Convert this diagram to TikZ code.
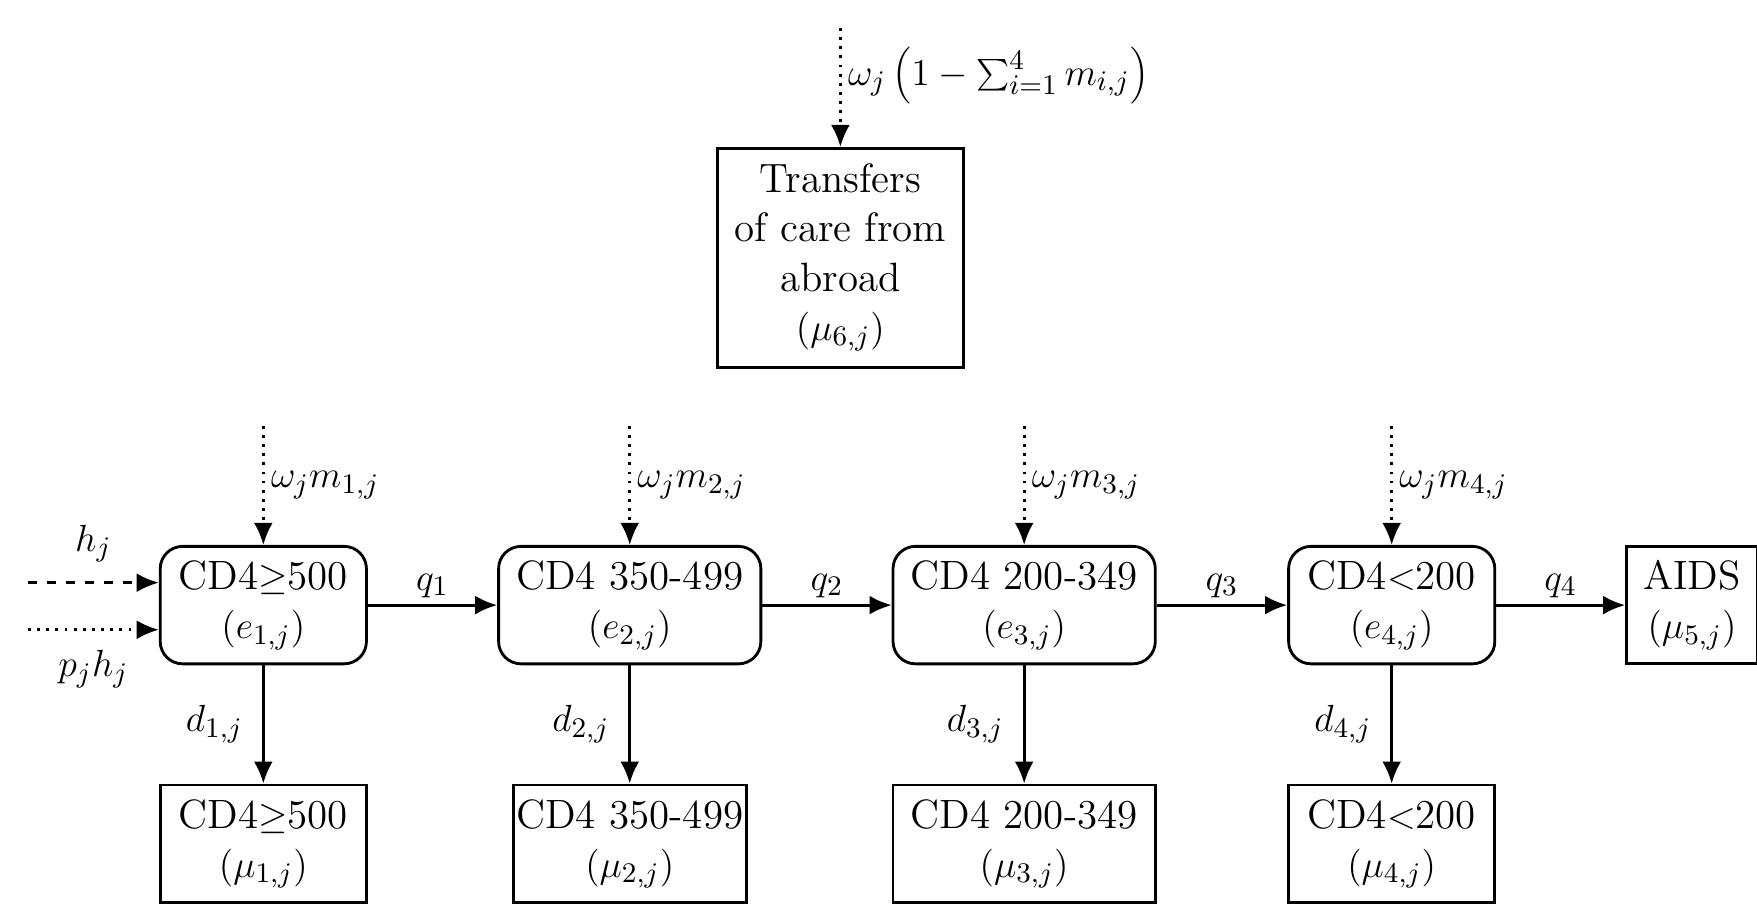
\documentclass[tikz,border=0pt]{standalone}
\usetikzlibrary{arrows.meta}
\begin{document}
\begin{tikzpicture}[x=0.0125cm,y=-0.0125cm,
  every node/.style={font=\fontsize{13}{15.6}\selectfont},
  st/.style={draw,line width=0.9pt,rounded corners=0.25cm,align=center,minimum height=1.31cm,inner sep=0pt},
  sq/.style={draw,line width=0.9pt,align=center,minimum height=1.31cm,inner sep=0pt},
  ar/.style={line width=0.9pt,-{Latex[length=7pt,width=6pt]}},
  lab/.style={inner sep=2pt}]
\useasboundingbox (0,0) rectangle (1568,807);
\node[sq,minimum width=2.75cm,minimum height=2.44cm] (T) at (750,230) {Transfers\\of care from\\abroad\\$(\mu_{6,j})$};
\coordinate (Ttop) at (750,25);
\draw[ar,dotted] (Ttop) -- (T.north) node[pos=0.4,right,lab] {$\omega_j\left(1-\sum_{i=1}^{4}m_{i,j}\right)$};

\node[st,minimum width=2.3cm] (e1) at (235,540) {CD4$\geq$500\\$(e_{1,j})$};
\node[st,minimum width=2.925cm] (e2) at (562,540) {CD4 350-499\\$(e_{2,j})$};
\node[st,minimum width=2.925cm] (e3) at (914,540) {CD4 200-349\\$(e_{3,j})$};
\node[st,minimum width=2.3cm] (e4) at (1242,540) {CD4$<$200\\$(e_{4,j})$};
\node[sq,minimum width=1.46cm] (A) at (1510,540) {AIDS\\$(\mu_{5,j})$};

\node[sq,minimum width=2.3cm] (m1) at (235,753) {CD4$\geq$500\\$(\mu_{1,j})$};
\node[sq,minimum width=2.6cm] (m2) at (562,753) {CD4 350-499\\$(\mu_{2,j})$};
\node[sq,minimum width=2.925cm] (m3) at (914,753) {CD4 200-349\\$(\mu_{3,j})$};
\node[sq,minimum width=2.3cm] (m4) at (1242,753) {CD4$<$200\\$(\mu_{4,j})$};

\draw[ar] (e1) -- (e2) node[midway,above,lab] {$q_1$};
\draw[ar] (e2) -- (e3) node[midway,above,lab] {$q_2$};
\draw[ar] (e3) -- (e4) node[midway,above,lab] {$q_3$};
\draw[ar] (e4) -- (A) node[midway,above,lab] {$q_4$};

\foreach \i/\x in {1/235,2/562,3/914,4/1242}{
  \coordinate (t\i) at (\x,380);
  \draw[ar,dotted] (t\i) -- (e\i.north) node[midway,right,lab] {$\omega_j m_{\i,j}$};
  \draw[ar] (e\i) -- (m\i) node[midway,left,lab,xshift=-4pt] {$d_{\i,j}$};
}
\coordinate (h) at (25,520);
\coordinate (p) at (25,562);
\draw[ar,dashed] (h) -- (e1.west|-h) node[pos=0.5,above,lab,yshift=4pt] {$h_j$};
\draw[ar,dotted] (p) -- (e1.west|-p) node[pos=0.5,below,lab,yshift=-4pt] {$p_jh_j$};
\end{tikzpicture}
\end{document}
